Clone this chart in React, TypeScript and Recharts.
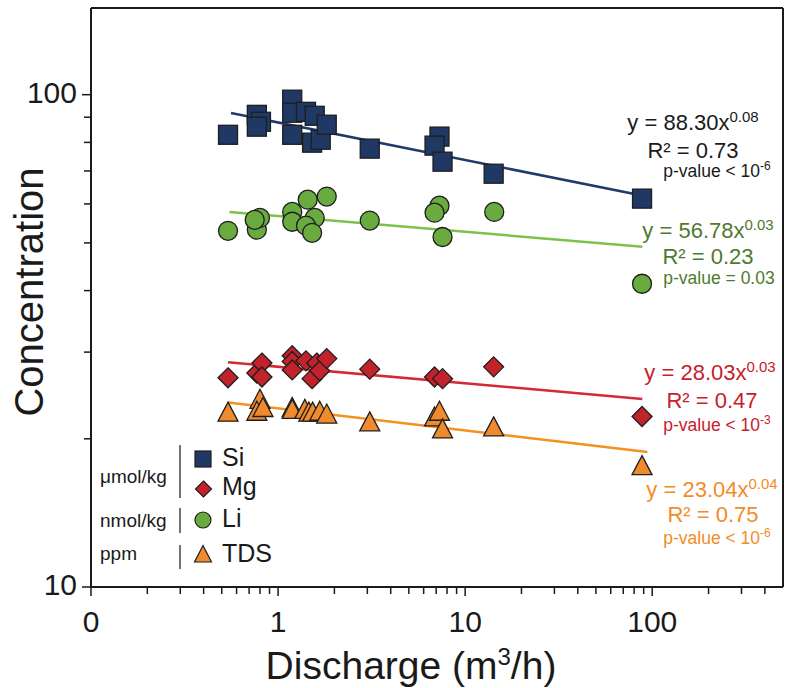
import { ScatterChart, Scatter, XAxis, YAxis, ReferenceLine } from 'recharts';

// discharge q (m3/h) vs concentration c
const siPoints = [
  { q: 0.54, c: 82.9 }, { q: 0.77, c: 91.0 }, { q: 0.81, c: 88.1 }, { q: 0.77, c: 86.1 },
  { q: 1.19, c: 97.7 }, { q: 1.19, c: 91.9 }, { q: 1.19, c: 82.9 }, { q: 1.41, c: 92.3 },
  { q: 1.57, c: 90.6 }, { q: 1.52, c: 79.9 }, { q: 1.69, c: 81.0 }, { q: 1.82, c: 86.9 },
  { q: 3.09, c: 77.7 }, { q: 7.29, c: 82.2 }, { q: 6.86, c: 78.8 }, { q: 7.57, c: 73.1 },
  { q: 14.2, c: 69.1 }, { q: 88.2, c: 61.5 },
];
const liPoints = [
  { q: 0.54, c: 52.9 }, { q: 0.77, c: 53.2 }, { q: 0.8, c: 56.2 }, { q: 0.75, c: 55.7 },
  { q: 1.19, c: 57.8 }, { q: 1.19, c: 55.2 }, { q: 1.44, c: 61.2 }, { q: 1.82, c: 62.1 },
  { q: 1.57, c: 56.2 }, { q: 1.41, c: 54.2 }, { q: 1.52, c: 52.4 }, { q: 3.09, c: 55.5 },
  { q: 7.29, c: 59.5 }, { q: 6.86, c: 57.6 }, { q: 7.57, c: 51.4 }, { q: 14.3, c: 57.8 },
  { q: 88.2, c: 41.3 },
];
const mgPoints = [
  { q: 0.54, c: 26.6 }, { q: 0.77, c: 27.2 }, { q: 0.82, c: 28.5 }, { q: 0.82, c: 26.7 },
  { q: 1.19, c: 29.5 }, { q: 1.19, c: 28.7 }, { q: 1.19, c: 27.6 }, { q: 1.41, c: 28.8 },
  { q: 1.52, c: 26.5 }, { q: 1.61, c: 28.5 }, { q: 1.67, c: 27.5 }, { q: 1.82, c: 29.1 },
  { q: 3.09, c: 27.7 }, { q: 6.86, c: 26.7 }, { q: 7.57, c: 26.5 }, { q: 14.2, c: 28.0 },
  { q: 88.2, c: 22.2 },
];
const tdsPoints = [
  { q: 0.54, c: 22.6 }, { q: 0.8, c: 24.0 }, { q: 0.77, c: 22.7 }, { q: 0.83, c: 23.1 },
  { q: 1.19, c: 23.1 }, { q: 1.19, c: 22.9 }, { q: 1.39, c: 22.9 }, { q: 1.46, c: 22.6 },
  { q: 1.53, c: 22.6 }, { q: 1.67, c: 22.7 }, { q: 1.82, c: 22.4 }, { q: 3.09, c: 21.6 },
  { q: 6.86, c: 22.1 }, { q: 7.29, c: 22.7 }, { q: 7.57, c: 20.9 }, { q: 14.2, c: 21.1 },
  { q: 88.2, c: 17.6 },
];

// power-law fit lines, end points
const siFit = [{ q: 0.56, c: 91.8 }, { q: 88.2, c: 62.4 }];
const liFit = [{ q: 0.55, c: 57.8 }, { q: 88.5, c: 49.1 }];
const mgFit = [{ q: 0.54, c: 28.6 }, { q: 88.5, c: 24.1 }];
const tdsFit = [{ q: 0.54, c: 23.7 }, { q: 94.2, c: 18.8 }];

const xDomain = [0.1, 500];
const yDomain = [10, 150];
const xTicks = [
  0.1, 0.2, 0.3, 0.4, 0.5, 0.6, 0.7, 0.8, 0.9,
  1, 2, 3, 4, 5, 6, 7, 8, 9,
  10, 20, 30, 40, 50, 60, 70, 80, 90,
  100, 200, 300, 400,
];
const xMajorTicks = [0.1, 1, 10, 100];
const xMajorLabels = ['0', '1', '10', '100'];
const yTicks = [10, 20, 30, 40, 50, 60, 70, 80, 90, 100];
const yMajorTicks = [10, 100];
const yMajorLabels = ['10', '100'];

const FONT = '"Liberation Sans", Arial, Helvetica, sans-serif';
const INK = '#1a1a1a';
const EDGE = '#1e1e1e';

const SI = '#1f3864';
const LI = '#6aab40';
const MG = '#c1222b';
const TDS = '#ef8a2d';

function XTick({ x, y, payload }: any) {
  const i = xMajorTicks.indexOf(payload.value);
  const major = i >= 0;
  return (
    <g>
      <line x1={x} x2={x} y1={y} y2={y + (major ? 9 : 7)} stroke={INK} strokeWidth={1.5} />
      {major && (
        <text x={x} y={y + 45} textAnchor="middle" fontSize={30} fill={INK} fontFamily={FONT}>
          {xMajorLabels[i]}
        </text>
      )}
    </g>
  );
}

function YTick({ x, y, payload }: any) {
  const i = yMajorTicks.indexOf(payload.value);
  const major = i >= 0;
  return (
    <g>
      <line x1={x - (major ? 9 : 7)} x2={x} y1={y} y2={y} stroke={INK} strokeWidth={1.5} />
      {major && (
        <text x={x - 14} y={y + 8} textAnchor="end" fontSize={30} fill={INK} fontFamily={FONT}>
          {yMajorLabels[i]}
        </text>
      )}
    </g>
  );
}

const squareShape = (p: any) => (
  <rect x={p.cx - 9.5} y={p.cy - 9.5} width={19} height={19} fill={SI} stroke={EDGE} strokeWidth={1.3} />
);
const circleShape = (p: any) => (
  <circle cx={p.cx} cy={p.cy} r={9.5} fill={LI} stroke={EDGE} strokeWidth={1.3} />
);
const diamondShape = (p: any) => (
  <path
    d={`M${p.cx},${p.cy - 10} L${p.cx + 10},${p.cy} L${p.cx},${p.cy + 10} L${p.cx - 10},${p.cy} Z`}
    fill={MG}
    stroke={EDGE}
    strokeWidth={1.3}
  />
);
const triangleShape = (p: any) => (
  <path
    d={`M${p.cx},${p.cy - 10.5} L${p.cx + 10},${p.cy + 8.5} L${p.cx - 10},${p.cy + 8.5} Z`}
    fill={TDS}
    stroke={EDGE}
    strokeWidth={1.3}
  />
);
const noShape = () => <g />;

function FitText({ x, y, color, coef, exp, r2, p, pExp }: any) {
  return (
    <g fill={color} fontFamily={FONT} textAnchor="middle">
      <text x={x[0]} y={y[0]} fontSize={22}>
        y = {coef}x<tspan dy={-8} fontSize={15}>{exp}</tspan>
      </text>
      <text x={x[1]} y={y[1]} fontSize={22}>
        R² = {r2}
      </text>
      <text x={x[2]} y={y[2]} fontSize={17.5}>
        {p}
        {pExp && <tspan dy={-7} fontSize={12}>{pExp}</tspan>}
      </text>
    </g>
  );
}

export default function App() {
  return (
    <div style={{ position: 'absolute', left: 0, top: 0, width: 785, height: 688, background: '#fff' }}>
      <ScatterChart width={785} height={688} margin={{ top: 8, right: 2, bottom: 0, left: 0 }}>
        <XAxis
          dataKey="q"
          type="number"
          scale="log"
          domain={xDomain}
          ticks={xTicks}
          interval={0}
          allowDataOverflow
          height={101}
          tickSize={0}
          tickMargin={0}
          tickLine={false}
          tick={<XTick />}
          axisLine={{ stroke: INK, strokeWidth: 2 }}
        />
        <YAxis
          dataKey="c"
          type="number"
          scale="log"
          domain={yDomain}
          ticks={yTicks}
          interval={0}
          allowDataOverflow
          width={91}
          tickSize={0}
          tickMargin={0}
          tickLine={false}
          tick={<YTick />}
          axisLine={{ stroke: INK, strokeWidth: 2 }}
        />
        {/* frame: top and right edges */}
        <ReferenceLine y={yDomain[1]} stroke={INK} strokeWidth={2} ifOverflow="visible" />
        <ReferenceLine x={xDomain[1]} stroke={INK} strokeWidth={2} ifOverflow="visible" />
        <Scatter data={siFit} line={{ stroke: '#203a6a', strokeWidth: 2.5 }} shape={noShape} isAnimationActive={false} />
        <Scatter data={liFit} line={{ stroke: '#7cc24a', strokeWidth: 2.5 }} shape={noShape} isAnimationActive={false} />
        <Scatter data={mgFit} line={{ stroke: '#d42a35', strokeWidth: 2.5 }} shape={noShape} isAnimationActive={false} />
        <Scatter data={tdsFit} line={{ stroke: '#f6901f', strokeWidth: 2.5 }} shape={noShape} isAnimationActive={false} />
        <Scatter data={siPoints} shape={squareShape} isAnimationActive={false} />
        <Scatter data={liPoints} shape={circleShape} isAnimationActive={false} />
        <Scatter data={mgPoints} shape={diamondShape} isAnimationActive={false} />
        <Scatter data={tdsPoints} shape={triangleShape} isAnimationActive={false} />
      </ScatterChart>

      <svg
        width={785}
        height={688}
        style={{ position: 'absolute', left: 0, top: 0, pointerEvents: 'none' }}
      >
        <text
          transform="translate(43,292) rotate(-90)"
          textAnchor="middle"
          fontSize={40}
          fill={INK}
          fontFamily={FONT}
        >
          Concentration
        </text>
        <text x={411} y={679} textAnchor="middle" fontSize={39} fill={INK} fontFamily={FONT}>
          Discharge (m<tspan dy={-14} fontSize={24}>3</tspan>
          <tspan dy={14}>/h)</tspan>
        </text>

        <FitText x={[693, 693, 717]} y={[130, 158, 177]} color="#1a1a1a" coef="88.30" exp="0.08" r2="0.73" p="p-value < 10" pExp="-6" />
        <FitText x={[708, 708, 719]} y={[238, 264, 284]} color="#4e7a2e" coef="56.78" exp="0.03" r2="0.23" p="p-value = 0.03" />
        <FitText x={[710, 712, 717]} y={[380, 408, 431]} color="#c8202e" coef="28.03" exp="0.03" r2="0.47" p="p-value < 10" pExp="-3" />
        <FitText x={[712, 713, 717]} y={[497, 522, 544]} color="#f28c28" coef="23.04" exp="0.04" r2="0.75" p="p-value < 10" pExp="-6" />

        <g fontFamily={FONT} fill={INK}>
          <line x1={180} x2={180} y1={445} y2={498} stroke="#444" strokeWidth={1.5} />
          <line x1={180} x2={180} y1={508} y2={533} stroke="#444" strokeWidth={1.5} />
          <line x1={180} x2={180} y1={545} y2={569} stroke="#444" strokeWidth={1.5} />
          <text x={100} y={483} fontSize={19}>μmol/kg</text>
          <text x={100} y={527} fontSize={19}>nmol/kg</text>
          <text x={100} y={560} fontSize={19}>ppm</text>

          <rect x={195} y={451} width={16} height={16} fill={SI} stroke={EDGE} strokeWidth={1.2} />
          <path d="M203.5,481 L211.5,489 L203.5,497 L195.5,489 Z" fill={MG} stroke={EDGE} strokeWidth={1.2} />
          <circle cx={203} cy={520} r={8} fill={LI} stroke={EDGE} strokeWidth={1.2} />
          <path d="M203,545.5 L211.5,562 L194.5,562 Z" fill={TDS} stroke={EDGE} strokeWidth={1.2} />

          <text x={222} y={466} fontSize={25}>Si</text>
          <text x={222} y={495} fontSize={25}>Mg</text>
          <text x={222} y={527} fontSize={25}>Li</text>
          <text x={222} y={562} fontSize={25}>TDS</text>
        </g>
      </svg>
    </div>
  );
}
